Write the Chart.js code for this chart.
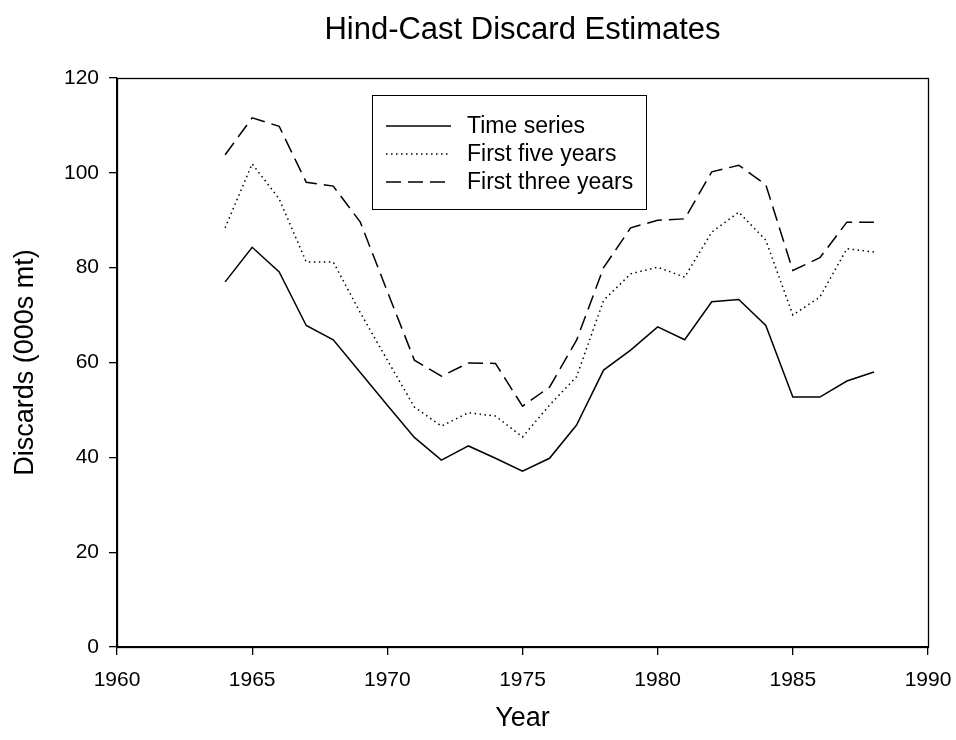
<!DOCTYPE html>
<html>
<head>
<meta charset="utf-8">
<script src="https://cdn.jsdelivr.net/npm/chart.js@4.4.1/dist/chart.umd.min.js"></script>
<style>
    html, body { margin: 0; padding: 0; background: #fff; }
    #wrap { width: 956px; height: 740px; }
</style>
</head>
<body>
<div id="wrap"><canvas id="discardChart" width="956" height="740"></canvas></div>
<script>
// years of the hind-cast
const years = [1964, 1965, 1966, 1967, 1968, 1969, 1970, 1971, 1972, 1973, 1974, 1975, 1976,
               1977, 1978, 1979, 1980, 1981, 1982, 1983, 1984, 1985, 1986, 1987, 1988];

// discards, 000s mt
const timeSeries = [77.0, 84.3, 79.1, 67.8, 64.8, 57.9, 51.0, 44.2, 39.4, 42.4, 39.8, 37.1, 39.8,
                    46.8, 58.4, 62.6, 67.5, 64.8, 72.8, 73.3, 67.8, 52.7, 52.7, 56.1, 58.0];
const firstFive = [88.4, 101.9, 94.5, 81.2, 81.2, 70.5, 60.5, 50.6, 46.6, 49.4, 48.7, 44.3, 51.0,
                   57.0, 73.1, 78.7, 80.1, 78.0, 87.5, 91.7, 85.8, 70.0, 73.8, 84.0, 83.3];
const firstThree = [103.8, 111.6, 109.8, 98.0, 97.2, 89.6, 75.0, 60.5, 57.1, 59.9, 59.8, 50.8, 54.8,
                    64.7, 80.0, 88.4, 90.0, 90.3, 100.2, 101.6, 97.5, 79.4, 82.1, 89.6, 89.6];

const xTicks = [1960, 1965, 1970, 1975, 1980, 1985, 1990];
const yTicks = [0, 20, 40, 60, 80, 100, 120];

const FONT = 'Liberation Sans, Arial, sans-serif';

function toPoints(values) {
    return years.map((yr, i) => ({ x: yr, y: values[i] }));
}

// box round the plot plus the legend inside it
const framePlugin = {
    id: 'frame',
    afterDatasetsDraw(chart) {
        const ctx = chart.ctx;
        const a = chart.chartArea;
        ctx.save();
        ctx.strokeStyle = '#000';
        ctx.lineWidth = 1.3;
        ctx.strokeRect(Math.round(a.left) + 0.5, Math.round(a.top) + 0.5,
                       Math.round(a.right - a.left), Math.round(a.bottom - a.top));

        // legend
        const bx = 372, by = 95, bw = 274, bh = 114;
        ctx.lineWidth = 1;
        ctx.strokeRect(bx + 0.5, by + 0.5, bw, bh);
        ctx.font = '23px ' + FONT;
        ctx.fillStyle = '#000';
        ctx.textBaseline = 'middle';
        chart.data.datasets.forEach((ds, i) => {
            const y = by + 31 + i * 28;
            ctx.beginPath();
            ctx.setLineDash(ds.borderDash || []);
            ctx.lineWidth = ds.borderWidth;
            ctx.moveTo(bx + 14, y);
            ctx.lineTo(bx + 79, y);
            ctx.stroke();
            ctx.setLineDash([]);
            ctx.fillText(ds.label, bx + 95, y + 1);
        });
        ctx.restore();
    }
};

const ctx = document.getElementById('discardChart').getContext('2d');
new Chart(ctx, {
    type: 'line',
    data: {
        datasets: [{
            label: 'Time series',
            data: toPoints(timeSeries),
            borderColor: '#000',
            borderWidth: 1.5,
            pointRadius: 0,
            tension: 0
        }, {
            label: 'First five years',
            data: toPoints(firstFive),
            borderColor: '#000',
            borderWidth: 1.5,
            borderDash: [1.5, 3.5],
            pointRadius: 0,
            tension: 0
        }, {
            label: 'First three years',
            data: toPoints(firstThree),
            borderColor: '#000',
            borderWidth: 1.5,
            borderDash: [15, 7],
            pointRadius: 0,
            tension: 0
        }]
    },
    options: {
        responsive: false,
        animation: false,
        events: [],
        layout: { padding: { top: 0, right: 28, bottom: 0, left: 0 } },
        plugins: {
            legend: { display: false },
            tooltip: { enabled: false },
            title: {
                display: true,
                fullSize: false,
                text: 'Hind-Cast Discard Estimates',
                color: '#000',
                font: { family: FONT, size: 31, weight: 'normal' },
                padding: { top: 11.4, bottom: 29.4 }
            }
        },
        scales: {
            x: {
                type: 'linear',
                min: 1960,
                max: 1990,
                afterBuildTicks: (scale) => { scale.ticks = xTicks.map(v => ({ value: v })); },
                afterFit: (scale) => {
                    scale.height = 93;
                    scale.paddingLeft = 0;
                    scale.paddingRight = 0;
                },
                border: { display: true, color: '#000', width: 1.3 },
                grid: { drawOnChartArea: false, drawTicks: true, tickLength: 8, color: '#000', lineWidth: 1.3 },
                ticks: {
                    color: '#000',
                    font: { family: FONT, size: 21 },
                    padding: 13,
                    maxRotation: 0,
                    callback: (v) => String(v)
                },
                title: {
                    display: true,
                    text: 'Year',
                    color: '#000',
                    font: { family: FONT, size: 27 },
                    padding: { top: 0, bottom: 5 }
                }
            },
            y: {
                type: 'linear',
                min: 0,
                max: 120,
                afterBuildTicks: (scale) => { scale.ticks = yTicks.map(v => ({ value: v })); },
                afterFit: (scale) => {
                    scale.width = 117;
                    scale.paddingTop = 0;
                    scale.paddingBottom = 0;
                },
                border: { display: true, color: '#000', width: 1.3 },
                grid: { drawOnChartArea: false, drawTicks: true, tickLength: 8, color: '#000', lineWidth: 1.3 },
                ticks: {
                    color: '#000',
                    font: { family: FONT, size: 21 },
                    padding: 10
                },
                title: {
                    display: true,
                    text: 'Discards (000s mt)',
                    color: '#000',
                    font: { family: FONT, size: 27 },
                    padding: { top: 9, bottom: 0 }
                }
            }
        }
    },
    plugins: [framePlugin]
});
</script>
</body>
</html>
